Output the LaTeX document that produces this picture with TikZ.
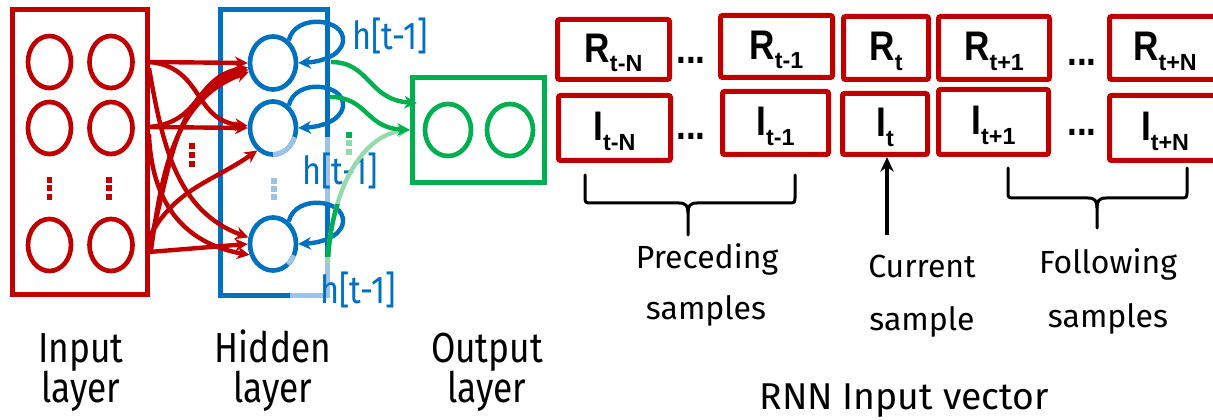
\documentclass[tikz,border=0pt]{standalone}
\usepackage{fontspec}
\setmainfont{Fira Sans}
\newfontfamily\condf[FakeStretch=0.84]{Fira Sans}
\newfontfamily\boxf[FakeStretch=0.85]{Liberation Sans}
\newfontfamily\subf{Liberation Sans}
\usetikzlibrary{shapes.geometric,arrows.meta,calc}
\definecolor{myred}{RGB}{192,0,0}
\definecolor{myblue}{RGB}{0,112,192}
\definecolor{mygreen}{RGB}{0,176,80}
\definecolor{lblue}{RGB}{157,195,230}
\definecolor{lgreen}{RGB}{150,218,172}
\newcommand\bxt[2]{{\fontsize{31}{31}\selectfont #1}\raisebox{-7pt}{\subf\bfseries\fontsize{17.5}{17.5}\selectfont #2}}
\newcommand\sqd[3]{\fill[#1] (#2-2.8,#3-3) rectangle (#2+2.8,#3+3);}
\newcommand\selfloop[1]{\draw[bloop] (#1.55) .. controls ($(#1)+(22,-50)$) and ($(#1)+(72,-45)$) .. ($(#1)+(70,-22)$) .. controls ($(#1)+(68,-6)$) and ($(#1)+(45,-1)$) .. (#1.east);}
\begin{document}
\begin{tikzpicture}[x=0.75pt,y=-0.75pt,
  inbox/.style={draw=myred, line width=3.75pt, inner sep=0pt},
  icirc/.style={ellipse, draw=myred, line width=3.5pt, inner sep=0pt, minimum width=32.25pt, minimum height=39pt},
  hcirc/.style={ellipse, draw=myblue, line width=3.5pt, inner sep=0pt, minimum width=34.5pt, minimum height=39.75pt},
  ocirc/.style={ellipse, draw=mygreen, line width=3.5pt, inner sep=0pt, minimum width=34.5pt, minimum height=39pt},
  obox/.style={draw=mygreen, line width=3.75pt, inner sep=0pt},
  rarr/.style={draw=myred, line width=3.3pt, -{Stealth[length=9.5pt,width=9.5pt]}},
  bloop/.style={draw=myblue, line width=3.3pt, -{Stealth[length=9.5pt,width=9.5pt]}},
  garr/.style={draw=mygreen, line width=3.3pt, -{Stealth[length=9.5pt,width=9.5pt]}},
  rbox/.style={draw=myred, line width=3.75pt, rounded corners=1.5pt, inner sep=0pt, font=\boxf\bfseries, text height=22pt, text depth=2.5pt},
  dotsn/.style={inner sep=0pt, anchor=base, font=\boxf\bfseries\fontsize{31}{31}\selectfont},
  barr/.style={draw=black, line width=2.5pt, -{Stealth[length=11pt,width=10pt]}},
  brace/.style={draw=black, line width=2.25pt, line cap=round, line join=round},
  lay/.style={font=\condf\fontsize{31.5}{32}\selectfont, inner sep=0pt, anchor=base},
  hlab/.style={font=\condf\fontsize{29}{29}\selectfont, text=myblue, inner sep=0pt, anchor=base},
  slab/.style={font=\fontsize{24}{24}\selectfont, inner sep=0pt, anchor=base},
  ttl/.style={font=\fontsize{28}{28}\selectfont, inner sep=0pt, anchor=base}]
\useasboundingbox (0,0) rectangle (1213,420);
\clip (0,0) rectangle (1213,420);

% ---------- hidden layer box (partly light) ----------
\draw[myblue, line width=3.75pt] (290,295.5) -- (220.5,295.5) -- (220.5,9.5) -- (327.5,9.5) -- (327.5,137);
\draw[lblue, line width=3.75pt] (327.5,137) -- (327.5,205);
\draw[myblue, line width=3.75pt] (327.5,205) -- (327.5,257);
\draw[lblue, line width=3.75pt] (327.5,257) -- (327.5,295.5) -- (290,295.5);

% ---------- input layer ----------
\node[inbox, minimum width=100.9pt, minimum height=213.4pt] (inb) at (79.75,151.75) {};
\node[icirc] (i11) at (49.5,62) {};
\node[icirc] (i12) at (111,62) {};
\node[icirc] (i21) at (49.5,128) {};
\node[icirc] (i22) at (111,128) {};
\node[icirc] (i31) at (49.5,245) {};
\node[icirc] (i32) at (111,245) {};
\sqd{myred}{49.5}{180}\sqd{myred}{49.5}{188.5}\sqd{myred}{49.5}{197}
\sqd{myred}{109}{180}\sqd{myred}{109}{188.5}\sqd{myred}{109}{197}
\sqd{myred}{192}{146}\sqd{myred}{192}{155}\sqd{myred}{192}{164}

% ---------- hidden nodes ----------
\node[hcirc] (h1) at (273,63) {};
\node[hcirc] (h2) at (273,128) {};
\node[hcirc] (h3) at (273,244) {};
\draw[lblue, line width=3.5pt] ($(h2)+(-20:17.25pt and 19.9pt)$) arc[start angle=-20, end angle=-90, x radius=17.25pt, y radius=19.9pt];
\draw[lblue, line width=3.5pt] ($(h3)+(-25:17.25pt and 19.9pt)$) arc[start angle=-25, end angle=-50, x radius=17.25pt, y radius=19.9pt];
\sqd{lblue}{274}{181}\sqd{lblue}{274}{189}\sqd{lblue}{274}{197}

% ---------- red connections ----------
\coordinate (a1) at (149,62);
\coordinate (a1b) at (149,68);
\coordinate (a2) at (149,127);
\coordinate (a2b) at (149,134);
\coordinate (a3) at (149,252);
\coordinate (a4) at (151,250);
\coordinate (a5) at (150,242);
\coordinate (a6) at (150,236);
\draw[rarr] (a1) -- (h1.west);
\draw[rarr] (a1) to[out=-5,in=175,looseness=1.2] (h2.175);
\draw[rarr] (a2) to[out=5,in=190,looseness=1.2] (h1.190);
\draw[rarr] (a2) -- (h2.west);
\draw[rarr] (a4) to[out=82,in=200] (h1.200);
\draw[rarr] (a5) to[out=74,in=195] (h1.195);
\draw[rarr] (a1b) to[out=-80,in=160] (h3.165);
\draw[rarr] (a2b) to[out=-88,in=170,looseness=1.1] (h3.205);
\draw[rarr] (a3) -- (h3.west);
\draw[rarr] (a6) to[out=62,in=215] (h2.-125);

% ---------- self loops ----------
\selfloop{h1}
\selfloop{h2}
\selfloop{h3}
\node[hlab] (hl1) at (390,50) {h[t-1]};
\node[hlab] (hl2) at (340,185) {h[t-1]};
\node[hlab] (hl3) at (358,303) {h[t-1]};

% ---------- output layer ----------
\node[obox, minimum width=99pt, minimum height=78.75pt] (ob) at (478.5,130) {};
\node[ocirc] (o1) at (448,130) {};
\node[ocirc] (o2) at (510,130) {};
\coordinate (gs1) at (331,62);
\coordinate (gs2) at (330,97);
\coordinate (gs3) at (328,263);
\coordinate (gt1) at (417,103);
\draw[garr, draw=lgreen] (gs3) .. controls (330,195) and (360,135) .. (ob.west);
\begin{scope}
\clip (300,205) rectangle (360,257);
\draw[mygreen, line width=3.3pt] (gs3) .. controls (330,195) and (360,135) .. (ob.west);
\end{scope}
\draw[garr] (gs1) .. controls (370,62) and (368,100) .. (gt1);
\draw[garr] (gs2) .. controls (368,97) and (365,128) .. (ob.west);
\sqd{mygreen}{349}{135}\sqd{lgreen}{349}{143.5}\sqd{lgreen}{349}{152}

% ---------- layer labels ----------
\node[lay] (inl1) at (81,362) {Input};
\node[lay] (inl2) at (81,402) {layer};
\node[lay] (hil1) at (273,362) {Hidden};
\node[lay] (hil2) at (273,402) {layer};
\node[lay] (oul1) at (487,362) {Output};
\node[lay] (oul2) at (487,402) {layer};

% ---------- RNN input vector ----------
\node[rbox, minimum width=84pt, minimum height=45pt] (R1) at (613.5,49.5) {\bxt{R}{t-N}};
\node[rbox, minimum width=84pt, minimum height=46.5pt] (R2) at (776.5,46.5) {\bxt{R}{t-1}};
\node[rbox, minimum width=63.75pt, minimum height=47.25pt] (R3) at (886,48) {\bxt{R}{t}};
\node[rbox, minimum width=83.25pt, minimum height=47.25pt] (R4) at (994,48) {\bxt{R}{t+1}};
\node[rbox, minimum width=83.25pt, minimum height=47.25pt] (R5) at (1165,48) {\bxt{R}{t+N}};
\node[rbox, minimum width=84pt, minimum height=48.75pt] (I1) at (614.5,128) {\bxt{I}{t-N}};
\node[rbox, minimum width=79.5pt, minimum height=47.25pt] (I2) at (775.5,123) {\bxt{I}{t-1}};
\node[rbox, minimum width=63.75pt, minimum height=45.75pt] (I3) at (885,124) {\bxt{I}{t}};
\node[rbox, minimum width=82.5pt, minimum height=48.75pt] (I4) at (993.5,122) {\bxt{I}{t+1}};
\node[rbox, minimum width=83.25pt, minimum height=48.75pt] (I5) at (1165,128) {\bxt{I}{t+N}};
\node[dotsn] (d1) at (691,64) {...};
\node[dotsn] (d2) at (691,140) {...};
\node[dotsn] (d3) at (1082,66) {...};
\node[dotsn] (d4) at (1082,136) {...};

% braces
\draw[brace] (585,175) -- (585,196) .. controls (585,203) .. (592,203) -- (679,203) .. controls (686,203) and (688,206) .. (688,213) -- (688,235);
\draw[brace] (795,175) -- (795,196) .. controls (795,203) .. (788,203) -- (697,203) .. controls (690,203) and (688,206) .. (688,213);
\draw[brace] (1008,168) -- (1008,191) .. controls (1008,198) .. (1015,198) -- (1088,198) .. controls (1095,198) and (1097,201) .. (1097,208) -- (1097,228);
\draw[brace] (1187,168) -- (1187,191) .. controls (1187,198) .. (1180,198) -- (1106,198) .. controls (1099,198) and (1097,201) .. (1097,208);

% current sample arrow
\coordinate (cs) at (887,235);
\draw[barr] (cs) -- (cs |- I3.south);

\node[slab] (pr1) at (707,268) {Preceding};
\node[slab] (pr2) at (706,320) {samples};
\node[slab] (cu1) at (922,277) {Current};
\node[slab] (cu2) at (922,330) {sample};
\node[slab] (fo1) at (1108,273) {Following};
\node[slab] (fo2) at (1108,327) {samples};
\node[ttl] (rnn) at (904,409) {RNN Input vector};
\end{tikzpicture}
\end{document}
